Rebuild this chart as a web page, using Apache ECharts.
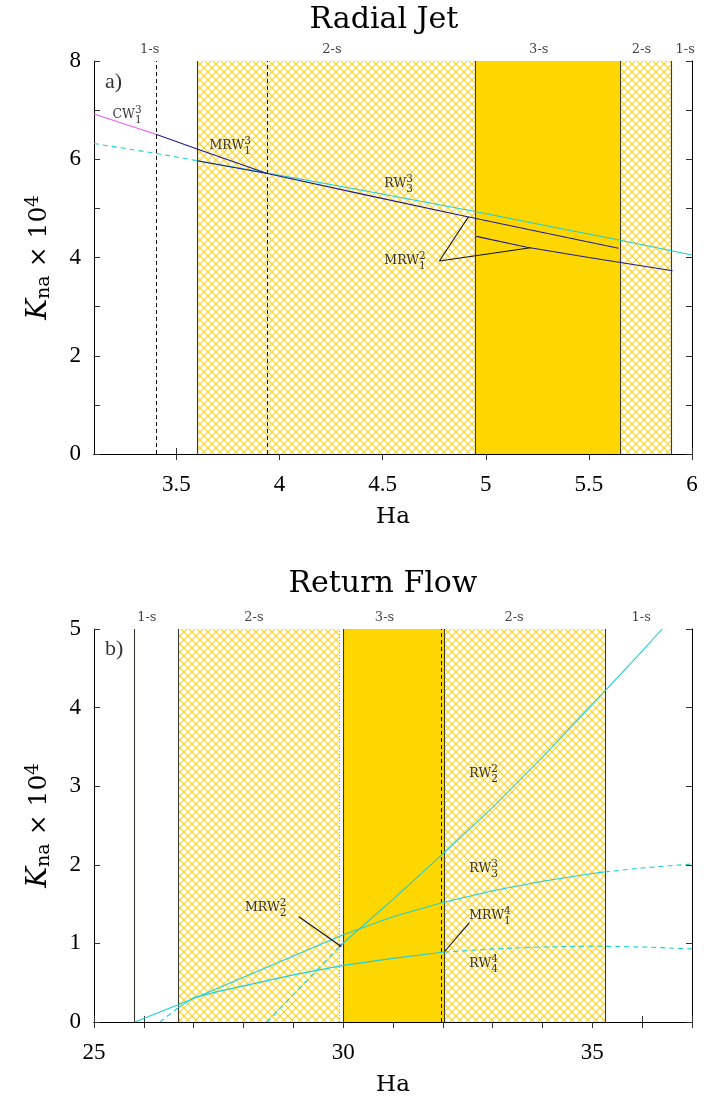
<!DOCTYPE html>
<html><head><meta charset="utf-8">
<script src="https://cdn.jsdelivr.net/npm/echarts@6/dist/echarts.min.js"></script>
<style>html,body{margin:0;padding:0;background:#fff}#c{width:704px;height:1107px}</style>
</head><body><div id="c"></div>
<script>
// ---------------- DATA ----------------
// Panel a) Radial Jet
const topTicksX = [3.5, 4, 4.5, 5, 5.5, 6];
const topHatch = [[3.6, 4.95], [5.65, 5.9]];
const topYellow = [[4.95, 5.65]];
const topSolidLines = [3.6, 4.95, 5.65, 5.9];
const topDashedLines = [3.4, 3.94];
const topRegionX = [3.37, 4.254, 5.257, 5.755, 5.967];
const topRegionText = ['1-s', '2-s', '3-s', '2-s', '1-s'];

const topMagenta = [[3.1, 6.92], [3.4, 6.51]];
const topNavyUpper = [[3.4, 6.51], [3.6, 6.21], [3.94, 5.71], [4.4, 5.29], [4.9, 4.84], [5.3, 4.49], [5.644, 4.19]];
const topNavyLower = [[3.6, 5.97], [3.94, 5.71]];
const topNavyMRW12 = [[4.954, 4.43], [5.2, 4.21], [5.5, 4.00], [5.906, 3.73]];
const topCyanDashed = [[3.1, 6.32], [3.4, 6.12], [3.6, 5.97]];
const topCyanSolid = [[3.6, 5.97], [3.94, 5.72], [4.4, 5.37], [4.954, 4.93], [5.3, 4.64], [5.653, 4.35], [6.0, 4.05]];
const topLeader = [[4.916, 4.83], [4.775, 3.93], [5.217, 4.20]];

const topLabelX = [3.19, 3.66, 4.508, 4.508];
const topLabelY = [6.89, 6.25, 5.49, 3.91];
const topLabelText = ['CW', 'MRW', 'RW', 'MRW'];
const topLabelSup = ['3', '3', '3', '2'];
const topLabelSub = ['1', '1', '3', '1'];

// Panel b) Return Flow
const botLabelTicks = [25, 30, 35];
const botHatch = [[26.69, 29.93], [32.03, 35.25]];
const botYellow = [[30.0, 32.03]];
const botSolidLines = [25.81, 26.69, 30.0, 32.03, 35.25];
const botDashedLines = [31.96];
const botDottedLines = [29.93];
const botRegionX = [26.06, 28.21, 30.83, 33.43, 35.98];
const botRegionText = ['1-s', '2-s', '3-s', '2-s', '1-s'];

const botRW22Dashed = [[28.47, 0], [29.2, 0.48], [29.94, 0.97]];
const botRW22Solid = [[29.94, 0.97], [31, 1.56], [32, 2.14], [33, 2.73], [34, 3.37], [35, 4.04], [35.25, 4.21], [36, 4.72], [36.4, 5.0]];
const botRW33Solid = [[25.82, 0], [27, 0.30], [28, 0.57], [29, 0.84], [30, 1.11], [31, 1.34], [32, 1.52], [33, 1.67], [34, 1.79], [35, 1.89], [35.25, 1.91]];
const botRW33Dashed = [[35.25, 1.91], [36, 1.96], [37, 2.01]];
const botRW44Dashed = [[26.32, 0], [26.69, 0.18]];
const botRW44Solid = [[26.69, 0.18], [27, 0.31], [27.5, 0.39], [28, 0.46], [29, 0.60], [30, 0.72], [31, 0.81], [32.03, 0.89]];
const botRW44Dashed2 = [[32.03, 0.89], [33, 0.93], [34, 0.955], [35, 0.965], [36, 0.955], [37, 0.93]];
const botPoint = [[29.94, 0.97]];
const botLeaderMRW22 = [[29.11, 1.34], [29.94, 0.97]];
const botLeaderMRW14 = [[32.53, 1.26], [32.04, 0.90]];

const botLabelX = [28.03, 32.53, 32.53, 32.53, 32.53];
const botLabelY = [1.44, 3.14, 1.94, 1.34, 0.73];
const botLabelText = ['MRW', 'RW', 'RW', 'MRW', 'RW'];
const botLabelSup = ['2', '2', '3', '4', '4'];
const botLabelSub = ['2', '2', '3', '1', '4'];

// ---------------- STYLE ----------------
const F_TICK = 'Liberation Serif';
const F_TEXT = 'DejaVu Serif';
const NAVY = '#1c1c8a', CYAN = '#1fcfd4', MAGENTA = '#ee5cee', GOLD = '#FFD700', EDGE = '#3a3a30';

function hatchCanvas() {
  const s = 8, c = document.createElement('canvas');
  c.width = s; c.height = s;
  const g = c.getContext('2d');
  g.fillStyle = '#fff'; g.fillRect(0, 0, s, s);
  g.strokeStyle = '#FFD21A'; g.lineWidth = 1.15;
  g.beginPath();
  g.moveTo(-1, -1); g.lineTo(s + 1, s + 1);
  g.moveTo(s + 1, -1); g.lineTo(-1, s + 1);
  g.stroke();
  return c;
}
const HATCH = { image: hatchCanvas(), repeat: 'repeat' };

function xAxes(gi, min, max, opts) {
  const common = {
    gridIndex: gi, type: 'value', min: min, max: max,
    axisLine: { show: true, lineStyle: { color: '#000', width: 1 } },
    splitLine: { show: false }
  };
  const bottom = Object.assign({}, common, {
    position: 'bottom',
    axisTick: Object.assign({ inside: true, length: 6, lineStyle: { color: '#333' } }, opts.tick),
    axisLabel: Object.assign({ fontFamily: F_TICK, fontSize: 23, color: '#000', margin: 19 }, opts.label),
    name: 'Ha', nameLocation: 'middle', nameGap: 52,
    nameTextStyle: { fontFamily: F_TEXT, fontSize: 23, color: '#000' }
  }, opts.extra || {});
  const top = Object.assign({}, common, {
    position: 'top',
    axisTick: Object.assign({ inside: true, length: 6, lineStyle: { color: '#333' } }, opts.tick),
    axisLabel: { show: false }
  }, opts.extra || {});
  return [bottom, top];
}
const yName = '{k|K}{s|na}{t| × 10}{p|4}';
const yNameStyle = {
  fontFamily: F_TEXT, color: '#000',
  rich: {
    k: { fontFamily: F_TEXT, fontSize: 28, fontStyle: 'italic', lineHeight: 30, verticalAlign: 'middle', color: '#000' },
    s: { fontFamily: F_TEXT, fontSize: 19, lineHeight: 18, verticalAlign: 'bottom', color: '#000' },
    t: { fontFamily: F_TEXT, fontSize: 25, lineHeight: 30, verticalAlign: 'middle', color: '#000' },
    p: { fontFamily: F_TEXT, fontSize: 18, lineHeight: 14, verticalAlign: 'top', color: '#000' }
  }
};
function yAxes(gi, max, fmt) {
  const common = {
    gridIndex: gi, type: 'value', min: 0, max: max, interval: 1,
    axisLine: { show: true, lineStyle: { color: '#000', width: 1 } },
    axisTick: { inside: true, length: 6, lineStyle: { color: '#333' } },
    splitLine: { show: false }
  };
  return [
    Object.assign({}, common, {
      position: 'left',
      axisLabel: { fontFamily: F_TICK, fontSize: 23, color: '#000', margin: 13, formatter: fmt },
      name: yName, nameLocation: 'middle', nameRotate: 90, nameGap: 40, nameTextStyle: yNameStyle
    }),
    Object.assign({}, common, { position: 'right', axisLabel: { show: false } })
  ];
}

function line(ai, data, color, dashed, z) {
  return {
    type: 'line', xAxisIndex: ai, yAxisIndex: ai, data: data, showSymbol: false, silent: true,
    lineStyle: { color: color, width: 1.1, type: dashed ? [5, 4] : 'solid' },
    z: z || 5, animation: false, clip: true
  };
}
function regionsSeries(ai, hatch, yellow, solid, dashed, dotted) {
  const areas = hatch.map(r => [{ xAxis: r[0], itemStyle: { color: HATCH, opacity: 1 } }, { xAxis: r[1] }])
    .concat(yellow.map(r => [{ xAxis: r[0], itemStyle: { color: GOLD, opacity: 1 } }, { xAxis: r[1] }]));
  const lines = solid.map(v => ({ xAxis: v, lineStyle: { color: EDGE, type: 'solid', width: 1.1 } }))
    .concat(dashed.map(v => ({ xAxis: v, lineStyle: { color: '#111', type: [4, 3], width: 1 } })))
    .concat((dotted || []).map(v => ({ xAxis: v, lineStyle: { color: '#aaa', type: [1, 2], width: 1 } })));
  return [
    { type: 'line', xAxisIndex: ai, yAxisIndex: ai, data: [], z: 1, silent: true,
      markArea: { silent: true, data: areas, label: { show: false } } },
    { type: 'line', xAxisIndex: ai, yAxisIndex: ai, data: [], z: 2, silent: true,
      markLine: { silent: true, symbol: ['none', 'none'], label: { show: false }, animation: false, data: lines } }
  ];
}
function regionLabels(ai, xs, texts, ymax) {
  return {
    type: 'scatter', xAxisIndex: ai, yAxisIndex: ai, symbolSize: 0, silent: true, clip: false, z: 10,
    data: xs.map(x => [x, ymax]),
    label: { show: true, position: 'top', distance: 5, fontFamily: F_TEXT, fontSize: 13, color: '#111',
      formatter: p => texts[p.dataIndex] }
  };
}
function curveLabels(ai, xs, ys, texts, sups, subs) {
  const tc = '#000';
  return {
    type: 'scatter', xAxisIndex: ai, yAxisIndex: ai, symbolSize: 0, silent: true, clip: false, z: 10,
    data: xs.map((x, i) => [x, ys[i]]),
    label: {
      show: true, position: 'right', distance: 0, offset: [0, 0],
      formatter: p => {
        const t = texts[p.dataIndex];
        return '{h1|' + t + '}{sp|' + sups[p.dataIndex] + '}\n{m|' + t + '}\n{h3|' + t + '}{sb|' + subs[p.dataIndex] + '}';
      },
      rich: {
        h1: { fontFamily: F_TEXT, fontSize: 12.5, color: 'rgba(0,0,0,0)', lineHeight: 4 },
        sp: { fontFamily: F_TEXT, fontSize: 10.5, color: tc, lineHeight: 4 },
        m: { fontFamily: F_TEXT, fontSize: 12.5, color: tc, lineHeight: 5 },
        h3: { fontFamily: F_TEXT, fontSize: 12.5, color: 'rgba(0,0,0,0)', lineHeight: 6 },
        sb: { fontFamily: F_TEXT, fontSize: 10.5, color: tc, lineHeight: 6 }
      }
    }
  };
}
function panelTag(ai, x, y, txt) {
  return {
    type: 'scatter', xAxisIndex: ai, yAxisIndex: ai, symbolSize: 0, silent: true, z: 10,
    data: [[x, y]],
    label: { show: true, position: 'right', distance: 0, fontFamily: F_TICK, fontSize: 22, color: '#000', formatter: txt }
  };
}

const chart = echarts.init(document.getElementById('c'), null, { renderer: 'canvas' });
const option = {
  animation: false,
  backgroundColor: '#fff',
  title: [
    { text: 'Radial Jet', left: 384, top: 5, textAlign: 'center', padding: 0,
      textStyle: { fontFamily: F_TEXT, fontSize: 30, fontWeight: 'normal', color: '#000' } },
    { text: 'Return Flow', left: 383, top: 569, textAlign: 'center', padding: 0,
      textStyle: { fontFamily: F_TEXT, fontSize: 30, fontWeight: 'normal', color: '#000' } }
  ],
  grid: [
    { left: 94, top: 61, width: 598, height: 393 },
    { left: 94, top: 629, width: 598, height: 393 }
  ],
  xAxis: []
    .concat(xAxes(0, 3.1, 6, { tick: { customValues: topTicksX }, label: { customValues: topTicksX } }))
    .concat(xAxes(1, 25, 37, { extra: { interval: 1 }, tick: {}, label: { customValues: botLabelTicks } })),
  yAxis: []
    .concat(yAxes(0, 8, v => (v % 2 === 0 ? String(v) : '')))
    .concat(yAxes(1, 5, v => String(v))),
  series: []
    // panel a
    .concat(regionsSeries(0, topHatch, topYellow, topSolidLines, topDashedLines, []))
    .concat([
      line(0, topCyanDashed, CYAN, true),
      line(0, topCyanSolid, CYAN, false),
      line(0, topMagenta, MAGENTA, false),
      line(0, topNavyUpper, NAVY, false, 6),
      line(0, topNavyLower, NAVY, false, 6),
      line(0, topNavyMRW12, NAVY, false, 6),
      line(0, topLeader, '#111', false, 7),
      regionLabels(0, topRegionX, topRegionText, 8),
      curveLabels(0, topLabelX, topLabelY, topLabelText, topLabelSup, topLabelSub),
      panelTag(0, 3.153, 7.57, 'a)')
    ])
    // panel b (axis index 2)
    .concat(regionsSeries(2, botHatch, botYellow, botSolidLines, botDashedLines, botDottedLines))
    .concat([
      line(2, botRW22Dashed, CYAN, true),
      line(2, botRW22Solid, CYAN, false),
      line(2, botRW33Solid, CYAN, false),
      line(2, botRW33Dashed, CYAN, true),
      line(2, botRW44Dashed, CYAN, true),
      line(2, botRW44Solid, CYAN, false),
      line(2, botRW44Dashed2, CYAN, true),
      line(2, botLeaderMRW22, '#111', false, 7),
      line(2, botLeaderMRW14, '#111', false, 7),
      { type: 'scatter', xAxisIndex: 2, yAxisIndex: 2, data: botPoint, symbolSize: 3, itemStyle: { color: NAVY }, z: 8, silent: true },
      regionLabels(2, botRegionX, botRegionText, 5),
      curveLabels(2, botLabelX, botLabelY, botLabelText, botLabelSup, botLabelSub),
      panelTag(2, 25.22, 4.74, 'b)')
    ])
};
chart.setOption(option);
</script>
</body></html>
